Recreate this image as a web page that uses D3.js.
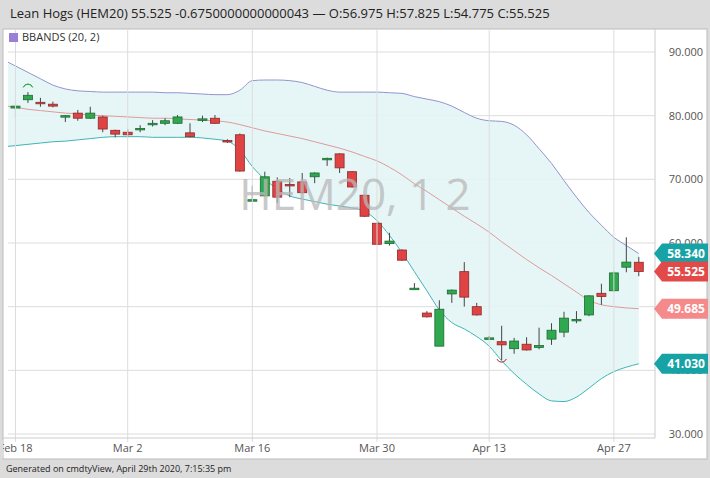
<!DOCTYPE html>
<html><head><meta charset="utf-8">
<script src="https://cdn.jsdelivr.net/npm/d3@7"></script>
<style>body{margin:0;background:#dcdcdc;font-family:"Open Sans",Arial,sans-serif}</style>
</head><body>
<svg id="chart" width="710" height="478"></svg>
<script>
// candles, one per trading day, Feb 18 .. Apr 29 2020
var opens  = [81.2,82.5,82.1,81.8,80.0,80.4,79.6,79.8,77.7,77.4,78.0,78.8,78.8,78.8,77.3,79.5,79.6,76.1,77.0,66.8,67.4,69.7,69.2,69.6,70.4,73.2,74.0,71.2,67.5,63.1,59.9,58.9,52.9,49.0,43.8,52.0,55.5,50.0,45.1,44.5,43.4,44.1,43.6,44.9,46.0,48.0,48.7,52.1,52.5,56.2,56.975];
var highs  = [82.0,83.7,82.8,82.2,80.1,80.9,81.4,80.0,77.8,77.9,78.5,79.3,79.6,80.1,78.8,80.0,80.1,76.3,77.2,69.0,71.2,70.3,70.2,71.0,71.1,73.4,74.1,71.3,67.6,63.2,61.6,59.0,53.7,49.3,51.0,52.7,57.0,50.6,45.4,47.0,45.1,45.2,46.7,47.4,49.2,49.3,51.8,53.6,55.5,60.9,57.825];
var lows   = [79.6,82.0,81.4,81.3,79.0,79.2,79.5,77.4,76.6,76.6,77.4,78.3,78.5,78.7,76.6,79.0,78.7,75.7,71.2,66.7,67.3,66.3,67.2,67.7,69.4,72.1,71.0,68.7,64.1,59.7,59.6,57.2,52.8,48.3,43.8,50.6,50.0,48.6,44.8,41.6,42.6,43.1,43.3,44.0,45.2,47.4,48.5,50.3,52.4,55.4,54.775];
var closes = [81.5,83.2,81.9,81.5,80.0,79.6,80.4,77.9,77.1,77.0,78.0,78.8,79.2,79.8,76.7,79.5,78.8,75.9,71.3,66.8,70.4,67.2,69.1,67.9,71.0,73.3,71.8,68.8,64.2,59.8,60.3,57.3,52.9,48.4,49.6,52.6,51.5,48.7,45.1,44.0,44.6,43.2,43.9,46.3,48.2,48.0,51.7,51.6,55.3,57.0,55.525];
// Bollinger bands (20, 2); first value is the day before Feb 18
var upperBand  = [88.8,87.8,86.8,85.8,84.8,84.2,83.9,83.8,83.7,83.7,83.7,83.7,83.7,83.6,83.6,83.5,83.4,83.3,83.3,84.0,85.5,85.6,85.6,85.5,85.2,84.6,84.0,83.7,83.7,83.7,83.7,83.6,83.5,83.0,82.6,82.2,81.5,80.5,79.6,79.2,79.1,78.5,77.0,74.8,72.5,69.8,67.2,64.8,62.8,60.9,59.6,58.34];
var middleBand = [81.6,81.3,81.0,80.8,80.6,80.4,80.3,80.1,80.0,79.9,79.8,79.7,79.6,79.6,79.5,79.4,79.3,79.2,79.0,78.6,78.1,77.6,77.2,76.8,76.4,75.9,75.4,74.9,74.3,73.6,72.9,71.9,70.7,69.3,68.1,66.8,65.5,64.2,63.0,61.7,60.2,58.8,57.4,56.1,54.9,53.6,52.3,51.0,50.3,50.0,49.8,49.685];
var lowerBand  = [75.1,75.3,75.5,75.7,75.9,76.0,76.2,76.4,76.6,76.7,76.7,76.7,76.6,76.6,76.6,76.6,76.5,76.3,76.0,74.6,72.0,70.0,68.5,67.4,66.9,66.5,66.1,65.8,65.5,65.0,63.5,61.2,58.5,55.5,52.5,49.5,47.5,46.5,45.3,43.8,41.5,39.5,37.8,36.3,35.2,35.1,35.8,37.2,38.7,39.8,40.5,41.03];
var dateTicks = [[0,"Feb 18"],[9,"Mar 2"],[19,"Mar 16"],[29,"Mar 30"],[38,"Apr 13"],[48,"Apr 27"]];
var priceTicks = [90,80,70,60,50,40,30];
var tags = [[58.34,"#17a2a6"],[55.525,"#e24a4a"],[49.685,"#f58a8a"],[41.03,"#17a2a6"]];

var svg = d3.select("#chart");
var L = 8, R = 655, T = 29, B = 438;
var x = d3.scaleLinear().domain([-0.6, 51.3]).range([L, R]);
var y = d3.scaleLinear().domain([30, 90]).range([434, 52]);
var idx = d3.range(closes.length);
var bandIdx = d3.range(-1, closes.length);   // band arrays are offset by one

svg.append("text").attr("x", 10).attr("y", 18).attr("font-size", 13).attr("fill", "#222")
  .text("Lean Hogs (HEM20) 55.525 -0.6750000000000043 \u2014 O:56.975 H:57.825 L:54.775 C:55.525");
svg.append("rect").attr("x", 3).attr("y", T).attr("width", 704).attr("height", 430).attr("fill", "#fff").attr("stroke", "#bbb");

var defs = svg.append("defs");
defs.append("clipPath").attr("id", "plot").append("rect").attr("x", L).attr("y", T).attr("width", R - L).attr("height", B - T);
var g = svg.append("g").attr("clip-path", "url(#plot)");

// grid
g.selectAll(".hg").data(priceTicks).join("line").attr("x1", L).attr("x2", R)
  .attr("y1", d => y(d)).attr("y2", d => y(d)).attr("stroke", "#ddd");
svg.selectAll(".vg").data(dateTicks).join("line").attr("y1", T).attr("y2", B + 4)
  .attr("x1", d => x(d[0])).attr("x2", d => x(d[0])).attr("stroke", "#ddd");
svg.append("line").attr("x1", R).attr("x2", R).attr("y1", T).attr("y2", B).attr("stroke", "#ccc");
svg.append("line").attr("x1", 3).attr("x2", R).attr("y1", B).attr("y2", B).attr("stroke", "#ccc");

// band
g.append("path").datum(bandIdx).attr("fill", "#e3f5f6").attr("opacity", 0.9)
  .attr("d", d3.area().x(i => x(i)).y0(i => y(lowerBand[i + 1])).y1(i => y(upperBand[i + 1])).curve(d3.curveMonotoneX));
var line = arr => d3.line().x(i => x(i)).y(i => y(arr[i + 1])).curve(d3.curveMonotoneX);
g.append("path").datum(bandIdx).attr("fill", "none").attr("stroke", "#9494cc").attr("d", line(upperBand));
g.append("path").datum(bandIdx).attr("fill", "none").attr("stroke", "#e09a9a").attr("d", line(middleBand));
g.append("path").datum(bandIdx).attr("fill", "none").attr("stroke", "#3fb5b5").attr("d", line(lowerBand));

// watermark
svg.append("text").attr("x", 355).attr("y", 210).attr("text-anchor", "middle").attr("font-size", 44)
  .attr("fill", "#b8b8b8").attr("opacity", 0.75).text("HEM20, 1 2");

// candles
var c = g.selectAll(".c").data(idx).join("g");
c.append("line").attr("x1", i => x(i)).attr("x2", i => x(i))
  .attr("y1", i => y(highs[i])).attr("y2", i => y(lows[i])).attr("stroke", "#444");
c.append("rect").attr("x", i => x(i) - 4.5).attr("width", 9)
  .attr("y", i => y(Math.max(opens[i], closes[i])))
  .attr("height", i => Math.max(1.5, Math.abs(y(opens[i]) - y(closes[i]))))
  .attr("fill", i => closes[i] >= opens[i] ? "#2fa84f" : "#e04343")
  .attr("stroke", i => closes[i] >= opens[i] ? "#1c6b30" : "#8b2a2a").attr("stroke-width", 0.8);

// swing markers
g.append("path").attr("d", d3.arc()({innerRadius: 5, outerRadius: 5, startAngle: -1.2, endAngle: 1.2}))
  .attr("transform", "translate(" + x(1) + "," + (y(highs[1]) - 3) + ")").attr("stroke", "#2fa84f").attr("fill", "none");
g.append("path").attr("d", d3.arc()({innerRadius: 5, outerRadius: 5, startAngle: Math.PI - 1.2, endAngle: Math.PI + 1.2}))
  .attr("transform", "translate(" + x(39) + "," + (y(lows[39]) - 3) + ")").attr("stroke", "#c86060").attr("fill", "none");

// legend
svg.append("rect").attr("x", 9).attr("y", 33).attr("width", 9).attr("height", 9).attr("fill", "#9a7fd6");
svg.append("text").attr("x", 22).attr("y", 41).attr("font-size", 11).attr("fill", "#333").text("BBANDS (20, 2)");

// axes
svg.selectAll(".yl").data(priceTicks).join("text").attr("x", 703).attr("y", d => y(d) + 4)
  .attr("text-anchor", "end").attr("font-size", 11).attr("fill", "#555").text(d => d3.format(".3f")(d));
svg.selectAll(".xl").data(dateTicks).join("text").attr("x", d => x(d[0])).attr("y", 452)
  .attr("text-anchor", "middle").attr("font-size", 11).attr("fill", "#555").text(d => d[1]);
svg.append("rect").attr("x", 0).attr("y", 440).attr("width", 3).attr("height", 18).attr("fill", "#dcdcdc");

// price tags
var tg = svg.selectAll(".tag").data(tags).join("g").attr("transform", d => "translate(654," + y(d[0]) + ")");
tg.append("path").attr("d", "M0,0 L8,-10 L54,-10 L54,10 L8,10 Z").attr("fill", d => d[1]);
tg.append("text").attr("x", 32).attr("y", 4.5).attr("text-anchor", "middle").attr("font-size", 12)
  .attr("font-weight", "bold").attr("fill", "#fff").text(d => d3.format(".3f")(d[0]));

svg.append("text").attr("x", 6).attr("y", 472).attr("font-size", 9).attr("fill", "#222")
  .text("Generated on cmdtyView, April 29th 2020, 7:15:35 pm");
</script>
</body></html>
